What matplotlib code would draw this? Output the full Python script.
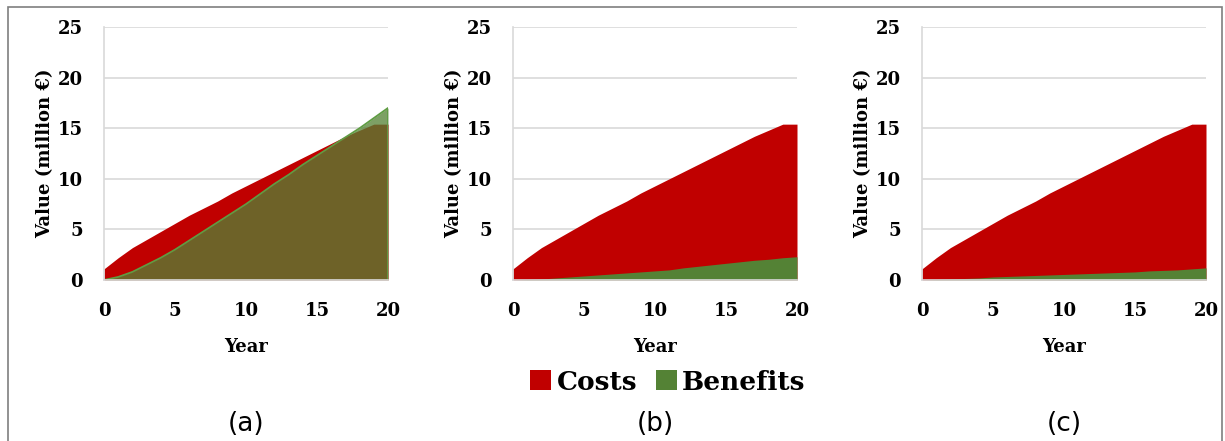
import numpy as np
import matplotlib
matplotlib.use('Agg')
import matplotlib.pyplot as plt
from matplotlib.patches import Rectangle, Patch

# cumulative values (million EUR) per year
years = list(range(0, 21))
costs = [1.1, 2.2, 3.2, 4.0, 4.8, 5.6, 6.4, 7.1, 7.8, 8.6, 9.3,
         10.0, 10.7, 11.4, 12.1, 12.8, 13.5, 14.2, 14.8, 15.4, 15.4]
benefits_a = [0.0, 0.3, 0.8, 1.5, 2.2, 3.0, 3.9, 4.8, 5.7, 6.6, 7.5,
              8.5, 9.5, 10.4, 11.4, 12.3, 13.2, 14.1, 15.0, 16.0, 17.0]
benefits_b = [0.0, 0.05, 0.1, 0.2, 0.3, 0.4, 0.5, 0.6, 0.7, 0.8, 0.9,
              1.0, 1.2, 1.35, 1.5, 1.65, 1.8, 1.95, 2.05, 2.2, 2.3]
benefits_c = [0.0, 0.05, 0.1, 0.15, 0.2, 0.3, 0.35, 0.4, 0.45, 0.5, 0.55,
              0.6, 0.65, 0.7, 0.75, 0.8, 0.9, 0.95, 1.0, 1.1, 1.2]

panels = [('(a)', benefits_a, 0.76), ('(b)', benefits_b, 1.0), ('(c)', benefits_c, 1.0)]
lefts = [104, 513, 922]

RED = '#c00000'
GREEN = '#548235'
serif = ['DejaVu Serif']

W, H = 1225, 441
fig = plt.figure(figsize=(W / 100, H / 100), dpi=100)

# frame around the whole figure
fig.patches.append(Rectangle((8 / W, -0.05), (1222 - 8) / W, 1.05 - 7 / H,
                             transform=fig.transFigure, fill=False,
                             edgecolor='#7f7f7f', lw=1.2))

for (cap, ben, alpha), left in zip(panels, lefts):
    ax = fig.add_axes([left / W, (H - 280) / H, 284 / W, 253 / H])
    ax.fill_between(years, 0, costs, color=RED, lw=0)
    ax.fill_between(years, 0, ben, color=GREEN, alpha=alpha, lw=0)
    if alpha < 1:
        ax.plot(years + [20], ben + [0], color='#5f9c43', lw=1.3)
    ax.set_xlim(0, 20)
    ax.set_ylim(0, 25)
    ax.set_xticks([0, 5, 10, 15, 20])
    ax.set_yticks([0, 5, 10, 15, 20, 25])
    ax.yaxis.grid(True, color='#d9d9d9', lw=1.2)
    ax.set_axisbelow(True)
    for s in ['top', 'right']:
        ax.spines[s].set_visible(False)
    for s in ['left', 'bottom']:
        ax.spines[s].set_color('#d9d9d9')
        ax.spines[s].set_linewidth(1.2)
    ax.tick_params(axis='x', length=0, pad=16)
    ax.tick_params(axis='y', length=0, pad=15)
    for lab in ax.get_xticklabels() + ax.get_yticklabels():
        lab.set_family(serif)
        lab.set_fontweight('bold')
        lab.set_fontsize(13)
    ax.set_xlabel('Year', family=serif, fontweight='bold', fontsize=13, labelpad=13)
    ax.set_ylabel('Value (million €)', family=serif, fontweight='bold', fontsize=13, labelpad=3)
    fig.text((left + 142) / W, (H - 424) / H, cap, family=['DejaVu Sans'],
             fontsize=19, ha='center', va='center')

handles = [Patch(facecolor=RED, label='Costs'), Patch(facecolor=GREEN, label='Benefits')]
fig.legend(handles=handles, loc='center', bbox_to_anchor=(668 / W, (H - 382) / H),
           ncol=2, frameon=False, prop={'family': serif, 'weight': 'bold', 'size': 19},
           handlelength=0.8, handleheight=0.8, handletextpad=0.2, columnspacing=0.7)

fig.savefig('out.png', dpi=100)
